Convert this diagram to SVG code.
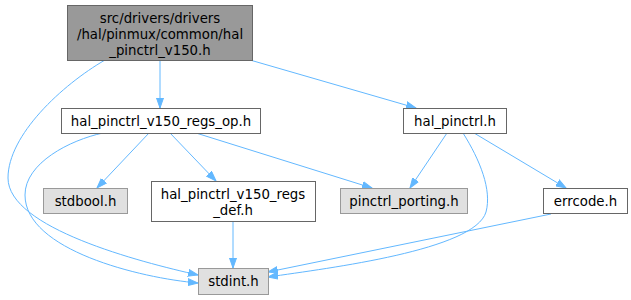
<svg xmlns="http://www.w3.org/2000/svg" width="631" height="300" viewBox="0 0 631 300">
<defs>
<marker id="arr" markerUnits="userSpaceOnUse" markerWidth="11" markerHeight="8" refX="10" refY="4" orient="auto">
<path d="M0,0.5 L10,4 L0,7.5 z" fill="#63b8ff" stroke="#63b8ff" stroke-width="1"/>
</marker>
</defs>
<style>
.n rect{fill:#fff;stroke:#666;stroke-width:1}
.g rect{fill:#e0e0e0;stroke:#999;stroke-width:1}
.r rect{fill:#999;stroke:#666;stroke-width:1}
text{font-family:"DejaVu Sans",sans-serif;font-size:13.3px;fill:#000;text-anchor:middle}
.e path{fill:none;stroke:#63b8ff;stroke-width:1;marker-end:url(#arr)}
</style>
<rect width="631" height="300" fill="#fff"/>
<g class="e" id="connectors">
<path d="M160,60 L160,108"/>
<path d="M250,60 L416,108"/>
<path d="M105,60 C62,85 8,135 8,178 C8,228 140,262 198,275"/>
<path d="M103,133 C70,140 25,163 25,195 C25,250 140,278 198,283"/>
<path d="M149,133 L97,188"/>
<path d="M170,133 L216,181"/>
<path d="M196,133 L372,188"/>
<path d="M447,133 L410,188"/>
<path d="M463,133 C480,160 492,190 486,212 C475,250 330,268 268,277"/>
<path d="M474,133 L566,188"/>
<path d="M551,214 L268,272"/>
<path d="M233,221 L233,268"/>
</g>
<g id="root" class="r"><rect x="67.5" y="5.5" width="185" height="55"/><text x="160" y="23">src/drivers/drivers</text><text x="160" y="39">/hal/pinmux/common/hal</text><text x="160" y="55">_pinctrl_v150.h</text></g>
<g id="regs_op" class="n"><rect x="61.5" y="108.5" width="199" height="25"/><text x="161" y="126">hal_pinctrl_v150_regs_op.h</text></g>
<g id="hal_pinctrl" class="n"><rect x="403.5" y="108.5" width="103" height="25"/><text x="455" y="126">hal_pinctrl.h</text></g>
<g id="stdbool" class="g"><rect x="43.5" y="188.5" width="84" height="25"/><text x="85.5" y="206">stdbool.h</text></g>
<g id="regs_def" class="n"><rect x="151.5" y="181.5" width="164" height="40"/><text x="233" y="199">hal_pinctrl_v150_regs</text><text x="233" y="215">_def.h</text></g>
<g id="pinctrl_porting" class="g"><rect x="340.5" y="188.5" width="127" height="25"/><text x="404" y="206">pinctrl_porting.h</text></g>
<g id="errcode" class="n"><rect x="543.5" y="188.5" width="84" height="25"/><text x="585.5" y="206">errcode.h</text></g>
<g id="stdint" class="g"><rect x="198.5" y="268.5" width="70" height="26"/><text x="233.5" y="286">stdint.h</text></g>
</svg>
